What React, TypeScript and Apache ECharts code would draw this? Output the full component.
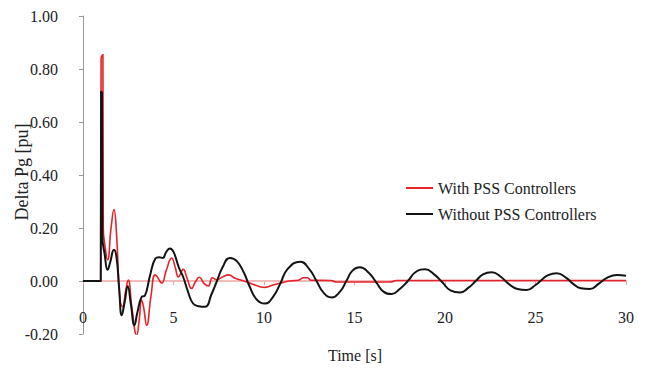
import React, { useEffect, useRef } from "react";
import * as echarts from "echarts";

const yTicks = [-0.2, 0, 0.2, 0.4, 0.6, 0.8, 1.0];
const xTicks = [0, 5, 10, 15, 20, 25, 30];
const seriesNames = ["With PSS Controllers", "Without PSS Controllers"];

// [time s, delta Pg pu]
const withPss: [number, number][] = [
  [0, 0], [0.98, 0], [1.0, 0.84], [1.1, 0.855], [1.12, 0.2], [1.2, 0.14], [1.36, 0.08],
  [1.55, 0.2], [1.71, 0.27], [1.85, 0.18], [2.04, -0.072], [2.19, -0.097], [2.35, -0.04],
  [2.5, 0.004], [2.7, -0.1], [2.97, -0.205], [3.1, -0.15], [3.24, -0.072], [3.35, -0.1],
  [3.52, -0.167], [3.75, -0.06], [3.98, 0.023], [4.1, 0.016], [4.35, -0.008], [4.6, 0.04],
  [4.9, 0.087], [5.1, 0.05], [5.27, 0.015], [5.54, 0.044], [5.75, 0.01], [6.0, -0.028],
  [6.2, -0.005], [6.42, 0.014], [6.7, -0.01], [6.92, -0.019], [7.15, 0.012], [7.4, 0.005],
  [7.7, 0.015], [8.05, 0.023], [8.4, 0.01], [8.8, 0.002], [9.3, -0.01], [9.7, -0.02],
  [10.05, -0.024], [10.5, -0.015], [10.9, -0.008], [11.4, 0.0], [11.9, 0.003], [12.2, 0.012],
  [12.4, 0.012], [12.6, 0.003], [13.7, 0.002], [14.0, -0.004], [17.0, -0.004], [17.3, 0.002],
  [30, 0.002],
];

const withoutPss: [number, number][] = [
  [0, 0], [0.98, 0], [1.0, 0.715], [1.05, 0.71], [1.07, 0.17], [1.2, 0.1], [1.36, 0.042],
  [1.5, 0.07], [1.71, 0.118], [1.85, 0.09], [2.0, -0.03], [2.14, -0.129], [2.3, -0.08],
  [2.47, -0.02], [2.65, -0.09], [2.84, -0.167], [3.0, -0.12], [3.24, -0.06], [3.42, -0.055],
  [3.7, 0.02], [4.0, 0.085], [4.2, 0.09], [4.4, 0.087], [4.6, 0.11], [4.8, 0.123],
  [5.0, 0.11], [5.3, 0.05], [5.53, 0.016], [5.8, -0.04], [6.08, -0.085], [6.4, -0.095],
  [6.74, -0.097], [7.1, -0.05], [7.4, 0.0], [7.7, 0.05], [8.12, 0.087], [8.5, 0.075],
  [8.9, 0.03], [9.2, -0.02], [9.6, -0.07], [10.05, -0.085], [10.5, -0.06], [10.9, -0.01],
  [11.3, 0.045], [12.0, 0.073], [12.5, 0.045], [12.9, 0.0], [13.3, -0.045], [13.74, -0.062],
  [14.2, -0.04], [14.55, 0.0], [14.9, 0.04], [15.3, 0.052], [15.8, 0.03], [16.2, -0.005],
  [16.6, -0.04], [17.05, -0.049], [17.5, -0.03], [17.95, 0.0], [18.4, 0.035], [18.9, 0.044],
  [19.4, 0.025], [19.85, -0.005], [20.3, -0.035], [20.83, -0.043], [21.3, -0.025], [21.7, 0.0],
  [22.1, 0.025], [22.58, 0.033], [23.1, 0.015], [23.5, -0.01], [24.0, -0.03], [24.51, -0.034],
  [25.0, -0.015], [25.35, 0.005], [25.7, 0.022], [26.17, 0.029], [26.7, 0.012], [27.1, -0.012],
  [27.5, -0.027], [28.0, -0.03], [28.5, -0.01], [28.9, 0.01], [29.5, 0.023], [30, 0.02],
];

const FONT = "'Liberation Serif', 'DejaVu Serif', serif";

export default function App() {
  const ref = useRef<HTMLDivElement>(null);
  useEffect(() => {
    if (!ref.current) return;
    const chart = echarts.init(ref.current, undefined, { renderer: "svg" });
    chart.setOption({
      animation: false,
      backgroundColor: "#ffffff",
      textStyle: { fontFamily: FONT },
      grid: { left: 83, right: 23, top: 16, bottom: 37, outerBoundsMode: "none", containLabel: false },
      legend: {
        orient: "vertical",
        left: 401,
        top: 175,
        itemWidth: 27,
        itemHeight: 2,
        itemGap: 10,
        icon: "rect",
        data: seriesNames,
        textStyle: { fontFamily: FONT, fontSize: 16, color: "#222" },
      },
      xAxis: {
        type: "value",
        position: "bottom",
        offset: -53,
        min: xTicks[0],
        max: xTicks[xTicks.length - 1],
        interval: 5,
        axisLine: { onZero: false, lineStyle: { color: "#f2a6a6", width: 1.5 } },
        axisTick: { show: true, inside: false, length: 4, lineStyle: { color: "#f2a6a6" } },
        axisLabel: { margin: 28, fontFamily: FONT, fontSize: 16, color: "#222" },
        splitLine: { show: false },
      },
      yAxis: {
        type: "value",
        min: yTicks[0],
        max: yTicks[yTicks.length - 1],
        interval: 0.2,
        axisLine: { show: true, onZero: false, lineStyle: { color: "#9a9a9a" } },
        axisTick: { show: true, inside: false, length: 4, lineStyle: { color: "#9a9a9a" } },
        axisLabel: {
          margin: 25,
          fontFamily: FONT,
          fontSize: 16,
          color: "#222",
          formatter: (v: number) => v.toFixed(2),
        },
        splitLine: { show: false },
      },
      graphic: [
        {
          type: "text",
          x: 22,
          y: 172,
          rotation: Math.PI / 2,
          style: {
            text: "Delta Pg [pu]",
            fontFamily: FONT,
            fontSize: 18,
            fill: "#222",
            align: "center",
            verticalAlign: "middle",
          },
        },
        {
          type: "text",
          x: 355,
          y: 355,
          style: {
            text: "Time [s]",
            fontFamily: FONT,
            fontSize: 16,
            fill: "#222",
            align: "center",
            verticalAlign: "middle",
          },
        },
      ],
      series: [
        {
          name: seriesNames[0],
          type: "line",
          data: withPss,
          showSymbol: false,
          smooth: 0.5,
          lineStyle: { color: "#e4232b", width: 1.6 },
          itemStyle: { color: "#e4232b" },
          z: 2,
        },
        {
          name: seriesNames[1],
          type: "line",
          data: withoutPss,
          showSymbol: false,
          smooth: 0.5,
          lineStyle: { color: "#141414", width: 2 },
          itemStyle: { color: "#141414" },
          z: 3,
        },
      ],
    });
    return () => chart.dispose();
  }, []);
  return (
    <div
      ref={ref}
      style={{ position: "absolute", left: 0, top: 0, width: 649, height: 371 }}
    />
  );
}
